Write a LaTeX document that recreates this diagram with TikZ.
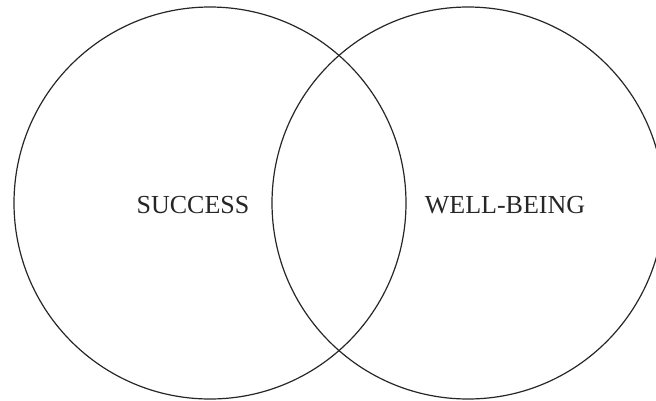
\documentclass[tikz,border=0pt]{standalone}
\usepackage{fontspec}
\setmainfont{Liberation Serif}
\begin{document}
\begin{tikzpicture}[x=1pt,y=-1pt,
  setcircle/.style={draw=black!85,line width=1.2pt},
  setlabel/.style={font=\fontsize{26}{30}\selectfont,text=black!85,inner sep=0pt}]
\useasboundingbox (0,0) rectangle (656,400);
\draw[setcircle] (210,203) circle[radius=196];
\draw[setcircle] (468,203) circle[radius=196];
\node[setlabel] (success) at (193,205) {SUCCESS};
\node[setlabel] (wellbeing) at (505,205) {WELL-BEING};
\end{tikzpicture}
\end{document}
